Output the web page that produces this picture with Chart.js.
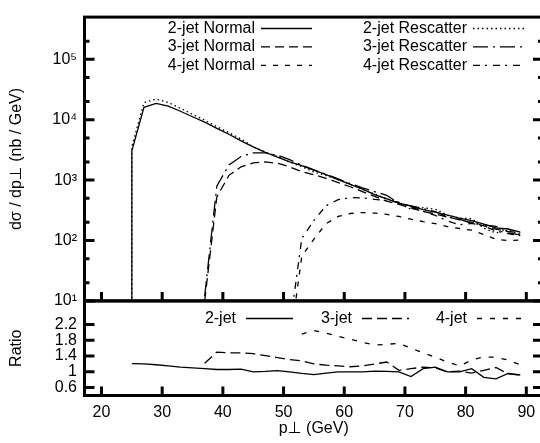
<!DOCTYPE html>
<html>
<head>
<meta charset="utf-8">
<script src="https://cdn.jsdelivr.net/npm/chart.js@4.4.0/dist/chart.umd.min.js"></script>
<style>
  html, body { margin: 0; background: #fff; overflow: hidden; }
  canvas { display: block; }
</style>
</head>
<body>
<!-- le cadre de droite depasse de la fenetre, comme dans l'image -->
<canvas id="graph" width="543" height="443"></canvas>
<script>
// p_T bins (GeV) for each curve
const pt2 = [25, 25, 27, 29, 31, 33, 35, 37, 39, 41, 43, 45, 47, 49, 51, 53, 55, 57, 59, 61, 63, 65, 67, 69, 71, 73, 75, 77, 79, 81, 83, 85, 87, 89];
const pt3 = [37, 39, 41, 43, 45, 47, 49, 51, 53, 55, 57, 59, 61, 63, 65, 67, 69, 71, 73, 75, 77, 79, 81, 83, 85, 87, 89];
const pt4 = [51, 53, 55, 57, 59, 61, 63, 65, 67, 69, 71, 73, 75, 77, 79, 81, 83, 85, 87, 89];

// dsigma/dpT (nb/GeV)
const normal2 = [1, 3055, 16000, 18600, 16800, 13800, 11200, 9100, 7200, 5750, 4470, 3550, 2880, 2400, 2000, 1740, 1460, 1230, 1020, 850, 710, 575, 490, 417, 372, 324, 295, 263, 234, 214, 186, 162, 155, 138];
const rescat2 = [1, 3600, 19200, 21900, 19300, 15500, 12300, 9850, 7670, 6100, 4780, 3550, 2910, 2470, 2000, 1670, 1360, 1190, 1020, 850, 710, 587, 495, 417, 327, 350, 330, 263, 234, 231, 160, 133, 149, 127];
const normal3 = [10, 525, 1200, 1660, 1930, 2000, 1900, 1660, 1380, 1230, 1070, 910, 776, 646, 537, 447, 398, 347, 302, 275, 245, 219, 200, 174, 155, 141, 135];
const rescat3 = [12, 790, 1780, 2460, 2820, 2820, 2580, 2175, 1770, 1476, 1250, 1047, 877, 743, 644, 560, 414, 375, 338, 302, 245, 223, 194, 181, 172, 134, 124];
const normal4 = [1.8, 55, 105, 190, 250, 280, 290, 285, 270, 250, 225, 205, 190, 170, 158, 148, 125, 105, 100, 102];
const rescat4 = [3.5, 108, 215, 376, 475, 512, 508, 479, 459, 430, 360, 303, 260, 212, 182, 192, 173, 144, 130, 120];

// ratio panel
const ptR2 = [25, 27, 29, 31, 33, 35, 37, 39, 41, 43, 45, 47, 49, 51, 53, 55, 57, 59, 61, 63, 65, 67, 69, 71, 73, 75, 77, 79, 81, 83, 85, 87, 89];
const ptR3 = [37, 39, 41, 43, 45, 47, 49, 51, 53, 55, 57, 59, 61, 63, 65, 67, 69, 71, 73, 75, 77, 79, 81, 83, 85, 87, 89];
const ptR4 = [53, 55, 57, 59, 61, 63, 65, 67, 69, 71, 73, 75, 77, 79, 81, 83, 85, 87, 89];
const ratio2 = [1.21, 1.2, 1.18, 1.15, 1.12, 1.10, 1.08, 1.06, 1.06, 1.07, 1.0, 1.01, 1.03, 1.0, 0.96, 0.93, 0.97, 1.0, 1.0, 1.0, 1.02, 1.01, 1.0, 0.88, 1.08, 1.12, 1.0, 1.0, 1.08, 0.86, 0.82, 0.96, 0.92];
const ratio3 = [1.22, 1.5, 1.48, 1.48, 1.46, 1.41, 1.36, 1.31, 1.28, 1.2, 1.17, 1.15, 1.13, 1.15, 1.2, 1.25, 1.04, 1.08, 1.12, 1.1, 1.0, 1.02, 0.97, 1.04, 1.11, 0.95, 0.92];
const ratio4 = [1.96, 2.05, 1.98, 1.9, 1.83, 1.75, 1.68, 1.7, 1.72, 1.6, 1.48, 1.37, 1.25, 1.15, 1.3, 1.38, 1.37, 1.3, 1.18];

// axes
const xTicks = [20, 30, 40, 50, 60, 70, 80, 90];
const logTicks = [1e1, 1e2, 1e3, 1e4, 1e5];
const logMinor = [20, 50, 200, 500, 2e3, 5e3, 2e4, 5e4, 2e5];
const ratioTicks = [0.6, 1, 1.4, 1.8, 2.2];
const exposants = ['⁰', '¹', '²', '³', '⁴', '⁵', '⁶'];

const police = '"Liberation Sans", Arial, "DejaVu Sans", sans-serif';
Chart.defaults.font.family = police;
Chart.defaults.font.size = 16;
Chart.defaults.color = '#000';

function pts(xs, ys) {
  return xs.map((x, i) => ({x: x, y: ys[i]}));
}

function courbe(label, xs, ys, dash, axe) {
  return {
    label: label,
    data: pts(xs, ys),
    yAxisID: axe,
    borderColor: '#000',
    borderWidth: 1.3,
    borderDash: dash,
    pointRadius: 0,
    fill: false,
    tension: 0
  };
}

let datasets = [
  courbe('2-jet Normal', pt2, normal2, [], 'y'),
  courbe('3-jet Normal', pt3, normal3, [9, 5], 'y'),
  courbe('4-jet Normal', pt4, normal4, [5, 7], 'y'),
  courbe('2-jet Rescatter', pt2, rescat2, [1.5, 3], 'y'),
  courbe('3-jet Rescatter', pt3, rescat3, [15, 5, 2, 5], 'y'),
  courbe('4-jet Rescatter', pt4, rescat4, [7, 5, 2, 6], 'y'),
  courbe('2-jet', ptR2, ratio2, [], 'yr'),
  courbe('3-jet', ptR3, ratio3, [10, 5], 'yr'),
  courbe('4-jet', ptR4, ratio4, [5, 8], 'yr')
];

// cadre, petites graduations vers l'interieur et legendes
const cadre = {
  id: 'cadre',
  afterDatasetsDraw(chart) {
    const ctx = chart.ctx;
    const {x, y, yr} = chart.scales;
    ctx.save();
    ctx.strokeStyle = '#000';
    ctx.lineWidth = 3;
    ctx.setLineDash([]);
    ctx.strokeRect(x.left, y.top, x.right - x.left, y.bottom - y.top);
    ctx.strokeRect(x.left, yr.top, x.right - x.left, yr.bottom - yr.top);

    ctx.beginPath();
    xTicks.forEach(v => {
      let px = x.getPixelForValue(v);
      ctx.moveTo(px, y.bottom); ctx.lineTo(px, y.bottom - 9);
      ctx.moveTo(px, yr.bottom); ctx.lineTo(px, yr.bottom - 9);
    });
    logTicks.forEach(v => {
      let py = y.getPixelForValue(v);
      ctx.moveTo(x.left, py); ctx.lineTo(x.left + 10, py);
      ctx.moveTo(x.right, py); ctx.lineTo(x.right - 10, py);
    });
    logMinor.forEach(v => {
      let py = y.getPixelForValue(v);
      ctx.moveTo(x.left, py); ctx.lineTo(x.left + 5, py);
      ctx.moveTo(x.right, py); ctx.lineTo(x.right - 5, py);
    });
    ratioTicks.forEach(v => {
      let py = yr.getPixelForValue(v);
      ctx.moveTo(x.left, py); ctx.lineTo(x.left + 10, py);
      ctx.moveTo(x.right, py); ctx.lineTo(x.right - 10, py);
    });
    ctx.stroke();

    ctx.font = '16px ' + police;
    ctx.fillStyle = '#000';
    ctx.textAlign = 'right';
    ctx.textBaseline = 'middle';
    chart.data.datasets.forEach((ds, i) => {
      let tx, ty, l0, l1;
      if (ds.yAxisID === 'y') {
        tx = i < 3 ? 255 : 467;
        ty = 28.5 + (i % 3) * 18.4;
        l0 = tx + 6;
        l1 = l0 + 51;
      } else {
        tx = [236, 352, 467][i - 6];
        ty = 318.5;
        l0 = tx + 10;
        l1 = l0 + 47;
      }
      ctx.fillText(ds.label, tx, ty);
      ctx.lineWidth = ds.borderWidth;
      ctx.setLineDash(ds.borderDash);
      ctx.beginPath();
      ctx.moveTo(l0, ty);
      ctx.lineTo(l1, ty);
      ctx.stroke();
    });
    ctx.restore();
  }
};

new Chart('graph', {
  type: 'line',
  data: { datasets: datasets },
  options: {
    responsive: false,
    animation: false,
    devicePixelRatio: 1,
    layout: { padding: { top: 9.5, right: 0, bottom: 0, left: 0 } },
    plugins: { legend: { display: false }, tooltip: { enabled: false } },
    scales: {
      x: {
        type: 'linear',
        min: 17.2,
        max: 92.75,
        grid: { display: false, drawTicks: false },
        border: { display: false },
        afterBuildTicks: s => { s.ticks = xTicks.map(v => ({value: v})); },
        afterFit: s => {
          s.height = 47.5;
          s.paddingLeft = 0;
          s.paddingRight = 0;
        },
        ticks: { autoSkip: false, padding: 7.4, maxRotation: 0 },
        title: { display: true, text: 'p⊥ (GeV)', padding: { top: 0, bottom: 4.4 } }
      },
      y: {
        type: 'logarithmic',
        min: 10,
        max: 5e5,
        position: 'left',
        stack: 'panneaux',
        stackWeight: 3,
        weight: 2,
        grid: { display: false, drawTicks: false },
        border: { display: false },
        afterBuildTicks: s => { s.ticks = logTicks.map(v => ({value: v})); },
        afterFit: s => { s.width = 84.5; },
        ticks: {
          autoSkip: false,
          padding: 7.5,
          callback: v => '10' + exposants[Math.round(Math.log10(v))]
        },
        title: { display: true, text: 'dσ / dp⊥ (nb / GeV)', padding: { top: 7, bottom: 0 } }
      },
      yr: {
        type: 'linear',
        min: 0.4,
        max: 2.8,
        position: 'left',
        stack: 'panneaux',
        stackWeight: 1,
        weight: 1,
        grid: { display: false, drawTicks: false },
        border: { display: false },
        afterBuildTicks: s => { s.ticks = ratioTicks.map(v => ({value: v})); },
        afterFit: s => { s.width = 84.5; },
        ticks: { autoSkip: false, padding: 7.5, callback: v => String(v) },
        title: { display: true, text: 'Ratio', padding: { top: 7, bottom: 0 } }
      }
    }
  },
  plugins: [cadre]
});
</script>
</body>
</html>
